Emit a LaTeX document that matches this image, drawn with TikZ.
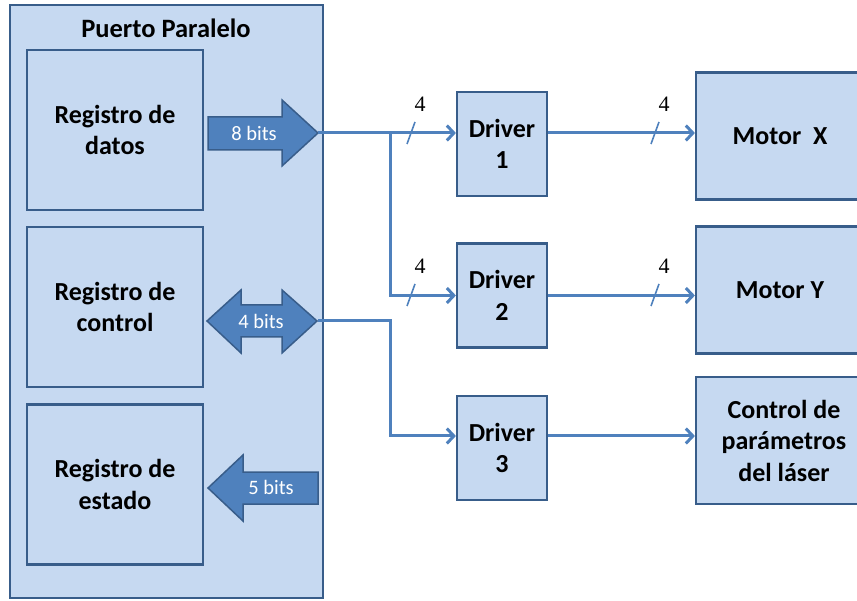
\documentclass[tikz,border=0pt]{standalone}
\usepackage{fontspec}
\setmainfont{Carlito}
\newfontfamily\numfont{Liberation Serif}
\usetikzlibrary{arrows.meta}

\definecolor{boxfill}{HTML}{C6D9F1}
\definecolor{boxline}{HTML}{385D8A}
\definecolor{wire}{HTML}{4F81BD}

\begin{document}
\begin{tikzpicture}
	[x=1pt,y=-1pt,
	 block/.style={draw=boxline,line width=2.2pt,fill=boxfill,align=center,inner sep=0pt,
	   font=\fontsize{26}{31.5}\selectfont\bfseries},
	 reg/.style={block,minimum width=176pt,minimum height=160pt},
	 drv/.style={block,minimum width=90pt,minimum height=104pt},
	 dev/.style={block,minimum width=168pt,minimum height=127pt},
	 fat/.style={draw=boxline,line width=1.5pt,fill=wire},
	 fatlabel/.style={text=white,font=\fontsize{20.5}{24}\selectfont},
	 edge/.style={draw=wire,line width=3pt,-{Straight Barb[length=7pt,width=15pt]}},
	 busline/.style={draw=wire,line width=1.6pt},
	 buslabel/.style={font=\numfont\fontsize{22}{24}\selectfont}]
	\useasboundingbox (0,0) rectangle (857,601);

	% port and its registers
	\node[block,minimum width=313pt,minimum height=593pt] (pp) at (166.5,301.5) {};
	\node[font=\fontsize{26.5}{30}\selectfont\bfseries] (title) at (166,28) {Puerto Paralelo};
	\node[reg] (rd) at (115,130) {Registro de\\datos};
	\node[reg] (rc) at (115,307) {Registro de\\control};
	\node[reg] (re) at (115,484.5) {Registro de\\estado};

	% drivers and what they drive
	\node[drv] (d1) at (502,144) {Driver\\1};
	\node[drv] (d2) at (502,295.5) {Driver\\2};
	\node[drv] (d3) at (502,448) {Driver\\3};
	\node[dev] (m1) at (780,136) {Motor~ X};
	\node[dev] (m2) at (780,290) {Motor Y};
	\node[dev,minimum width=176pt] (m3) at (784,440.5) {Control de\\parámetros\\del láser};

	% block arrows
	\draw[fat] (208,117) -- (282,117) -- (282,100) -- (318,133) -- (282,166) -- (282,150) -- (208,150) -- cycle;
	\node[fatlabel] (b8) at (254,133) {8 bits};
	\draw[fat] (207,321) -- (241,290) -- (241,305) -- (282,305) -- (282,290) -- (317,321)
		-- (282,353) -- (282,337) -- (241,337) -- (241,353) -- cycle;
	\node[fatlabel] (b4) at (261,321) {4 bits};
	\draw[fat] (208,488) -- (243,455) -- (243,472) -- (318,472) -- (318,504) -- (243,504) -- (243,521) -- cycle;
	\node[fatlabel] (b5) at (271,487) {5 bits};

	\coordinate (p8) at (318,133);
	\coordinate (p4) at (318,321);
	\coordinate (j1) at (390,133);
	\coordinate (j2) at (390,321);

	% wires
	\draw[edge] (p8) -- (p8 -| d1.west);
	\draw[edge] (j1) |- (d2.west);
	\draw[edge] (p4) -- (j2) |- ([yshift=12pt]d3.west);
	\draw[edge] (d1.east |- p8) -- (m1.west |- p8);
	\draw[edge] (d2.east) -- (m2.west |- d2.east);
	\draw[edge] ([yshift=12pt]d3.east) -- (m3.west |- 0,436);

	% bus width marks
	\foreach \sx/\sy in {411/133,411/295,655/133,655/295}{
		\draw[busline] (\sx-4,\sy+11) -- (\sx+4,\sy-11);
		\node[buslabel] (w\sx-\sy) at (\sx+9,\sy-29) {4};
	}
\end{tikzpicture}
\end{document}
